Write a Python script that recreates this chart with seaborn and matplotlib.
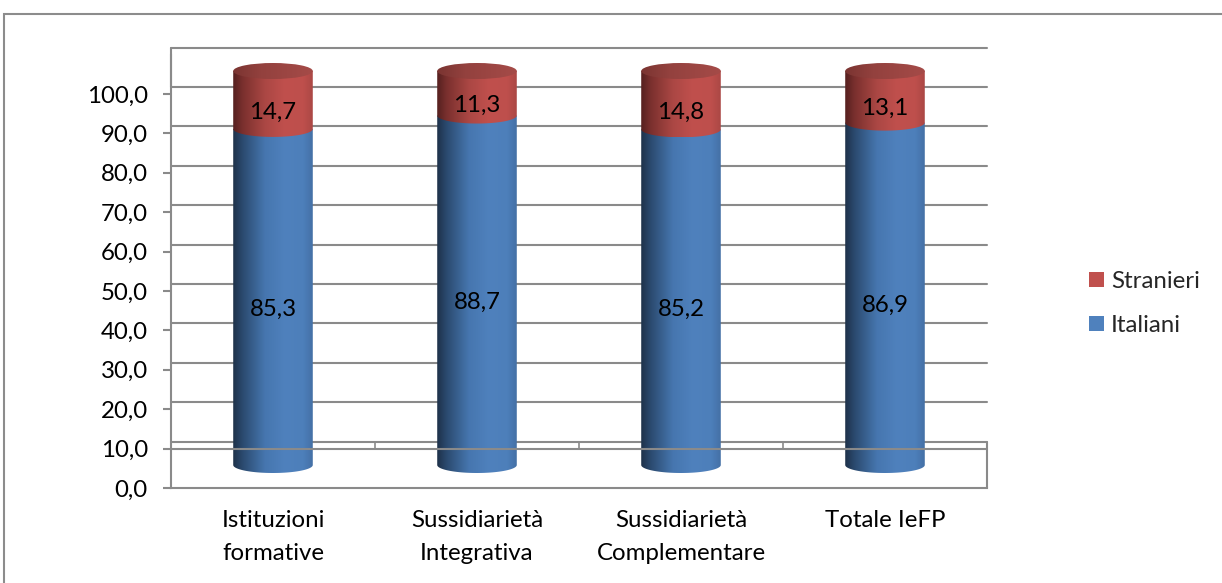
import numpy as np
import pandas as pd
import matplotlib
matplotlib.use("Agg")
import matplotlib.pyplot as plt
import seaborn as sns
from matplotlib.transforms import ScaledTranslation
from matplotlib.path import Path
from matplotlib.patches import PathPatch, Patch, Rectangle, Ellipse
from matplotlib.colors import LinearSegmentedColormap

# ---------------- data ----------------
categories = ["Istituzioni\nformative", "Sussidiarietà\nIntegrativa",
              "Sussidiarietà\nComplementare", "Totale IeFP"]
italiani = [85.3, 88.7, 85.2, 86.9]
stranieri = [14.7, 11.3, 14.8, 13.1]
series_names = ["Stranieri", "Italiani"]
y_ticks = [0, 10, 20, 30, 40, 50, 60, 70, 80, 90, 100]
y_tick_labels = [f"{v:.1f}".replace(".", ",") for v in y_ticks]

def fmt(v):
    return f"{v:.1f}".replace(".", ",")

# ---------------- style ----------------
sns.set_theme(style="white")
plt.rcParams['font.family'] = ['Lato', 'DejaVu Sans']
RED = "#C0504D"
BLUE = "#4F81BD"
GRID = "#8a8a8a"
FS = 17.3
DPI = 100
W, H = 1222, 583

fig = plt.figure(figsize=(W / DPI, H / DPI), dpi=DPI)
fig.patch.set_facecolor("white")
ax_h_px = 110 * 3.94
ax = fig.add_axes([171 / W, (H - 488) / H, 816 / W, ax_h_px / H])
ax.set_facecolor("none")
ppu = ax_h_px / 110.0  # pixels per data unit

df = pd.DataFrame({"cat": categories, "Italiani": italiani, "Stranieri": stranieri})
df["Totale"] = df["Italiani"] + df["Stranieri"]

sns.barplot(data=df, x="cat", y="Totale", color=RED, width=0.39, saturation=1, ax=ax)
sns.barplot(data=df, x="cat", y="Italiani", color=BLUE, width=0.39, saturation=1, ax=ax)

red_bars = ax.patches[:4]
blue_bars = ax.patches[4:8]

# 3D-like offsets
bar_off = ax.transData + ScaledTranslation(0, 23 / DPI, fig.dpi_scale_trans)
back = ax.transData + ScaledTranslation(0, 7 / DPI, fig.dpi_scale_trans)
lab_off = ax.transData + ScaledTranslation(0, 11 / DPI, fig.dpi_scale_trans)
eh = 16 / ppu  # ellipse height in data units

cmap_blue = LinearSegmentedColormap.from_list(
    "b", [(0, "#1e3149"), (0.12, "#2b4a6f"), (0.4, "#4676af"),
          (0.65, "#4f81bd"), (0.88, "#4d7fba"), (1, "#4470a6")])
cmap_red = LinearSegmentedColormap.from_list(
    "r", [(0, "#55201f"), (0.12, "#7a302e"), (0.4, "#ab4744"),
          (0.65, "#c0504d"), (0.88, "#be4f4c"), (1, "#ab4845")])
cmap_cap = LinearSegmentedColormap.from_list(
    "c", [(0, "#7a3431"), (0.35, "#93413e"), (1, "#a54b48")])
grad = np.linspace(0, 1, 256).reshape(1, -1)


def segment(x0, w, y0, y1, cmap, z):
    t = np.linspace(np.pi, 2 * np.pi, 60)
    xc = x0 + w / 2
    arc = np.column_stack([xc + w / 2 * np.cos(t), y0 + eh / 2 * np.sin(t)])
    verts = np.vstack([[x0, y1], [x0, y0], arc, [x0 + w, y0], [x0 + w, y1], [x0, y1]])
    codes = [Path.MOVETO] + [Path.LINETO] * (len(verts) - 2) + [Path.CLOSEPOLY]
    p = PathPatch(Path(verts, codes), transform=bar_off, facecolor="none",
                  edgecolor="none")
    ax.add_patch(p)
    im = ax.imshow(grad, cmap=cmap, aspect="auto", interpolation="bicubic",
                   extent=(x0, x0 + w, y0 - eh / 2, y1), transform=bar_off, zorder=z)
    im.set_clip_path(p)


for rb, bb, it, st in zip(red_bars, blue_bars, italiani, stranieri):
    x0, w = bb.get_x(), bb.get_width()
    top = rb.get_height()
    hb = bb.get_height()
    rb.set_visible(False)
    bb.set_visible(False)
    segment(x0, w, 0, hb, cmap_blue, 3)
    segment(x0, w, hb, top, cmap_red, 4)
    cap = Ellipse((x0 + w / 2, top), w, eh, transform=bar_off,
                  facecolor="none", edgecolor="none")
    ax.add_patch(cap)
    imc = ax.imshow(grad, cmap=cmap_cap, aspect="auto", interpolation="bicubic",
                    extent=(x0, x0 + w, top - eh / 2, top + eh / 2),
                    transform=bar_off, zorder=5)
    imc.set_clip_path(cap)
    xc = x0 + w / 2
    ax.text(xc, hb / 2, fmt(it), transform=lab_off, ha="center", va="center",
            fontsize=FS, color="black", zorder=10)
    ax.text(xc, hb + st / 2, fmt(st), transform=lab_off, ha="center", va="center",
            fontsize=FS, color="black", zorder=10)

# back wall gridlines
for lvl in y_ticks[2:] + [110]:
    ax.plot([-0.5, 3.5], [lvl, lvl], transform=back, color=GRID, lw=1.5,
            zorder=1, clip_on=False)
# left wall edge top extension
ax.plot([-0.5, -0.5], [100, 110], transform=back, color=GRID, lw=1.5, zorder=1,
        clip_on=False)
# floor
ax.plot([-0.5, 3.5], [10, 10], transform=back, color=GRID, lw=1.5, zorder=1,
        clip_on=False)
ax.plot([-0.5, 3.5], [10, 10], color=GRID, lw=1.5, zorder=8, clip_on=False)
for xb in [-0.5, 0.5, 1.5, 2.5]:
    ax.plot([xb, xb], [10 - 7 / ppu, 10], transform=back, color=GRID, lw=1.2,
            zorder=1, clip_on=False)
ax.plot([3.5, 3.5], [0, 10 + 7 / ppu], color=GRID, lw=1.5, zorder=8, clip_on=False)

ax.set_xlim(-0.5, 3.5)
ax.set_ylim(0, 110)
ax.set_yticks(y_ticks)
ax.set_yticklabels(y_tick_labels)
ax.set_xlabel("")
ax.set_ylabel("")
for s in ["top", "right"]:
    ax.spines[s].set_visible(False)
for s in ["left", "bottom"]:
    ax.spines[s].set_visible(True)
    ax.spines[s].set_color(GRID)
    ax.spines[s].set_linewidth(1.5)
    ax.spines[s].set_zorder(8)
ax.tick_params(axis="y", left=True, length=5.8, width=1.5, color=GRID, pad=11,
               labelsize=FS, labelcolor="black")
ax.tick_params(axis="x", bottom=False, length=0, pad=16, labelsize=FS,
               labelcolor="black")
for lab in ax.get_xticklabels():
    lab.set_linespacing(1.7)

handles = [Patch(facecolor=RED, edgecolor="none"), Patch(facecolor=BLUE, edgecolor="none")]
fig.legend(handles, series_names, loc="center left",
           bbox_to_anchor=(1089 / W, 1 - 303.5 / H), frameon=False, borderpad=0,
           borderaxespad=0, handlelength=0.62, handleheight=0.62,
           handletextpad=0.3, labelspacing=0.95, fontsize=FS)

# outer chart frame
fig.add_artist(Rectangle((4 / W, -0.05), 1.2, (H - 14) / H + 0.05,
                         transform=fig.transFigure, fill=False,
                         edgecolor="#8c8c8c", lw=1.5, clip_on=False))

fig.savefig("out.png", dpi=DPI)
